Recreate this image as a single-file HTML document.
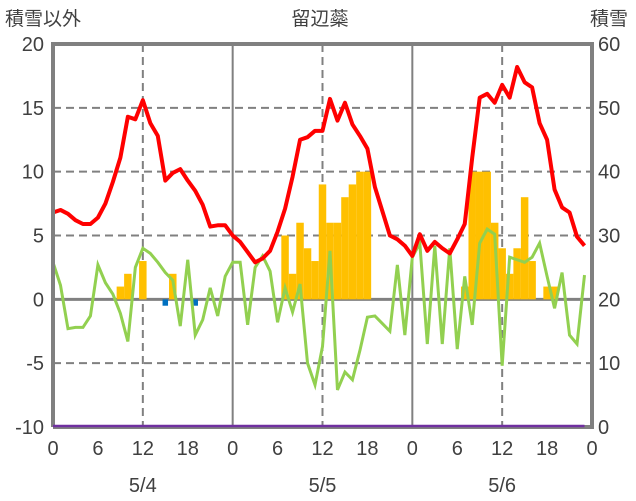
<!DOCTYPE html>
<html><head><meta charset="utf-8"><style>
body{margin:0;background:#fff;}
svg{display:block;font-family:"Liberation Sans","Noto Sans CJK JP",sans-serif;}
</style></head><body>
<svg id="chart" width="636" height="501" viewBox="0 0 636 501">
<text x="5" y="25" font-size="19" fill="#404040">積雪以外</text>
<text x="320" y="25" font-size="19" fill="#404040" text-anchor="middle">留辺蘂</text>
<text x="590" y="25" font-size="19" fill="#404040">積雪</text>
<g id="grid"></g><g id="bars"></g><g id="lines"></g><g id="frame"></g><g id="labels"></g>
</svg>
<script>
const hours=[0,1,2,3,4,5,6,7,8,9,10,11,12,13,14,15,16,17,18,19,20,21,22,23,24,25,26,27,28,29,30,31,32,33,34,35,36,37,38,39,40,41,42,43,44,45,46,47,48,49,50,51,52,53,54,55,56,57,58,59,60,61,62,63,64,65,66,67,68,69,70,71];
const tempValues=[6.8,7.0,6.7,6.2,5.9,5.9,6.4,7.5,9.2,11.1,14.3,14.1,15.6,13.8,12.8,9.3,9.9,10.2,9.3,8.5,7.4,5.7,5.8,5.8,5.0,4.5,3.7,2.9,3.2,3.8,5.3,7.1,9.6,12.5,12.7,13.2,13.2,15.7,14.0,15.4,13.7,12.8,11.8,8.8,6.9,5.0,4.7,4.2,3.4,5.1,3.8,4.5,4.0,3.6,4.7,5.9,11.1,15.8,16.1,15.4,16.8,15.8,18.2,17.0,16.6,13.8,12.5,8.6,7.2,6.8,4.9,4.2];
const greenValues=[2.9,1.1,-2.3,-2.2,-2.2,-1.3,2.7,1.3,0.4,-1.1,-3.3,2.5,4.0,3.6,2.9,2.1,1.5,-2.1,3.1,-2.8,-1.6,0.9,-1.3,1.8,2.9,2.9,-2.0,2.5,3.4,2.2,-1.8,0.9,-1.0,1.2,-5.0,-6.7,-3.7,3.8,-7.1,-5.7,-6.3,-4.0,-1.4,-1.3,-1.9,-2.5,2.7,-2.8,3.3,4.4,-3.5,4.2,-3.5,4.0,-3.9,1.8,-2.0,4.4,5.5,5.1,-5.2,3.3,3.1,2.9,3.3,4.4,1.8,-0.7,2.1,-2.8,-3.5,1.9];
const snowDepth=new Array(72).fill(0);
const barHours=[9,10,12,16,31,32,33,34,35,36,37,38,39,40,41,42,55,56,57,58,59,60,61,62,63,64,66,67];
const barValues=[1,2,3,2,5,2,6,4,3,9,6,6,8,9,10,10,1,10,10,10,6,4,2,4,8,3,1,1];
const negBarHours=[15,19];
const negBarValues=[-0.5,-0.5];
const leftTicks=[20,15,10,5,0,-5,-10];
const rightTicks=[60,50,40,30,20,10,0];
const xTickLabels=["0","6","12","18","0","6","12","18","0","6","12","18","0"];
const dayLabels=["5/4","5/5","5/6"];

const X0=53,X1=592,Y20=44,Ym10=427;
const pxh=(X1-X0)/72;
const x=h=>X0+h*pxh;
const y=v=>Y20+(20-v)*(Ym10-Y20)/30;
const yr=v=>Ym10-v*(Ym10-Y20)/60;
const NS="http://www.w3.org/2000/svg";
function mk(p,tag,a){const e=document.createElementNS(NS,tag);for(const k in a)e.setAttribute(k,a[k]);document.getElementById(p).appendChild(e);return e;}

leftTicks.forEach((v,i)=>{
  if(v!==20&&v!==-10&&v!==0){const g=mk('grid','line',{x1:X0,x2:X1,y1:y(v),y2:y(v),stroke:'#808080','stroke-width':2,'stroke-dasharray':'8,5'});
  
  }
  const t=mk('labels','text',{x:44,y:y(v)+7,'font-size':20,fill:'#404040','text-anchor':'end'});t.textContent=v;
  
  
  const r=mk('labels','text',{x:598,y:yr(rightTicks[i])+7,'font-size':20,fill:'#404040'});r.textContent=rightTicks[i];
  
  
});
[12,36,60].forEach(h=>{const g=mk('grid','line',{x1:x(h),x2:x(h),y1:Y20,y2:Ym10,stroke:'#808080','stroke-width':2,'stroke-dasharray':'8,5'});
  
  });
[24,48].forEach(h=>{const g=mk('grid','line',{x1:x(h),x2:x(h),y1:Y20,y2:Ym10,stroke:'#808080','stroke-width':2});
  
  });

barHours.forEach((h,i)=>{const b=mk('bars','rect',{x:x(h)-pxh/2,y:y(barValues[i]),width:pxh,height:y(0)-y(barValues[i]),fill:'#FFC000'});
  
  });
negBarHours.forEach((h,i)=>{const b=mk('bars','rect',{x:x(h)-pxh/2+1,y:y(0),width:pxh-2,height:y(negBarValues[i])-y(0),fill:'#0070C0'});
  
  });
const z=mk('grid','line',{x1:X0,x2:X1,y1:y(0),y2:y(0),stroke:'#808080','stroke-width':3});



const gl=mk('lines','polyline',{points:hours.map(h=>x(h)+','+y(greenValues[h])).join(' '),fill:'none',stroke:'#92D050','stroke-width':3});


const tl=mk('lines','polyline',{points:hours.map(h=>x(h)+','+y(tempValues[h])).join(' '),fill:'none',stroke:'#FF0000','stroke-width':4,'stroke-linejoin':'round'});



const fr=mk('frame','path',{d:`M${X0} ${Ym10}V${Y20}H${X1}V${Ym10}H${X0}`,fill:'none',stroke:'#808080','stroke-width':4});


const sl=mk('frame','polyline',{points:hours.map(h=>x(h)+','+(yr(snowDepth[h])-1)).join(' '),fill:'none',stroke:'#7030A0','stroke-width':2.5});



xTickLabels.forEach((l,i)=>{const t=mk('labels','text',{x:x(i*6),y:455,'font-size':20,fill:'#404040','text-anchor':'middle'});t.textContent=l;
  
  });
dayLabels.forEach((l,i)=>{const t=mk('labels','text',{x:x(i*24+12),y:492,'font-size':20,fill:'#404040','text-anchor':'middle'});t.textContent=l;
  
  });
</script>
</body></html>
